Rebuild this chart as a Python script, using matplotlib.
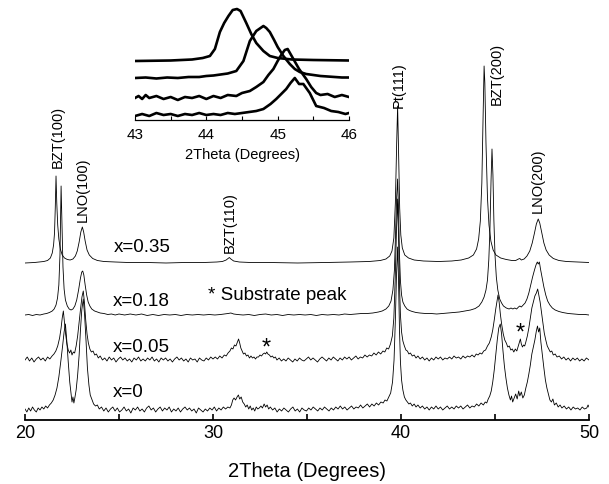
import numpy as np
import matplotlib
matplotlib.use('Agg')
import matplotlib.pyplot as plt
from matplotlib.ticker import MultipleLocator

plt.rcParams['font.family'] = ['Liberation Sans', 'DejaVu Sans']

# XRD patterns, (2theta, intensity above own baseline)
x0_pts = [(20.0,1),(20.1,-2),(20.2,2),(20.3,-1),(20.4,3),(20.5,0),(20.6,-2),(20.7,2),(20.8,0),(20.9,3),(21.0,1),(21.1,4),(21.2,2),(21.3,5),
    (21.4,7),(21.5,10),(21.6,15),(21.7,22),(21.8,33),(21.9,48),(22.0,64),(22.08,78),(22.15,86),(22.22,70),(22.3,48),(22.38,28),(22.45,16),(22.5,8),
    (22.55,13),(22.6,7),(22.65,12),(22.72,20),(22.8,35),(22.88,55),(22.95,80),(23.02,100),(23.1,111),(23.17,95),(23.25,68),(23.32,42),(23.4,25),
    (23.47,15),(23.55,11),(23.65,6),(23.75,4),(23.85,5),(23.95,1),
    (24.07,3),(24.19,-1),(24.31,2),(24.43,-2),(24.55,1),(24.67,3),(24.79,-1),(24.91,2),(25.03,-2),(25.15,0),(25.27,3),(25.39,-1),(25.51,1),(25.63,-3),
    (25.75,2),(25.87,0),(25.99,3),(26.11,-1),(26.23,1),(26.35,-2),(26.47,2),(26.59,4),(26.71,0),(26.83,2),(26.95,-2),(27.07,1),(27.19,3),(27.31,-1),
    (27.43,2),(27.55,0),(27.67,3),(27.79,-2),(27.91,1),(28.03,-1),(28.15,2),(28.27,-2),(28.39,1),(28.51,3),(28.63,0),(28.75,2),(28.87,-1),(28.99,1),
    (29.11,-3),(29.23,2),(29.35,0),(29.47,-2),(29.59,1),(29.71,-1),(29.83,2),(29.95,0),(30.07,3),(30.19,-1),(30.31,2),(30.43,0),(30.55,3),(30.67,1),
    (30.79,3),(30.9,2),(30.98,5),(31.05,10),(31.12,12),(31.2,10),(31.28,13),(31.35,15),(31.42,11),(31.5,13),(31.58,8),(31.66,6),(31.74,3),(31.82,5),
    (31.9,1),(31.98,4),(32.06,0),(32.14,2),(32.22,-1),(32.3,3),(32.38,1),(32.46,2),(32.55,4),(32.63,2),(32.72,6),(32.8,3),(32.88,5),(32.96,1),(33.05,3),
    (33.17,0),(33.29,2),(33.41,-2),(33.53,1),(33.65,-1),(33.77,2),(33.89,0),(34.01,-2),(34.13,1),(34.25,3),(34.37,-1),(34.49,1),(34.61,-2),(34.73,2),
    (34.85,0),(34.97,-1),(35.09,2),(35.21,0),(35.33,3),(35.45,1),(35.57,-1),(35.69,2),(35.81,0),(35.93,3),(36.05,1),(36.17,-1),(36.29,2),(36.41,0),
    (36.53,3),(36.65,1),(36.77,4),(36.89,1),(37.01,3),(37.13,0),(37.25,2),(37.37,4),(37.49,1),(37.61,3),(37.73,2),(37.85,5),(37.97,2),(38.09,4),
    (38.21,6),(38.33,3),(38.45,6),(38.57,4),(38.69,7),(38.81,5),(38.93,8),(39.05,7),(39.15,10),(39.25,9),(39.35,13),(39.45,17),
    (39.55,28),(39.63,50),(39.7,90),(39.76,135),(39.82,163),(39.87,128),(39.92,80),(39.97,48),(40.03,30),(40.1,20),(40.18,13),(40.26,10),(40.34,8),
    (40.42,6),(40.5,7),(40.6,4),(40.7,6),(40.8,3),(40.9,5),(41.02,2),(41.14,4),(41.26,1),(41.38,3),(41.5,0),(41.62,3),(41.74,1),(41.86,4),(41.98,1),
    (42.1,3),(42.22,0),(42.34,2),(42.46,4),(42.58,1),(42.7,3),(42.82,1),(42.94,4),(43.06,2),(43.18,4),(43.3,1),(43.42,3),(43.54,5),(43.66,2),(43.78,4),
    (43.9,3),(44.02,6),(44.14,4),(44.26,7),(44.38,5),(44.48,8),(44.56,7),(44.64,11),(44.72,14),(44.8,19),(44.88,28),(44.96,40),(45.04,55),(45.12,70),
    (45.2,82),(45.28,86),(45.35,76),(45.42,60),(45.5,44),(45.58,32),(45.66,22),(45.74,15),(45.82,10),(45.88,14),(45.94,8),(46.02,12),(46.1,16),
    (46.18,11),(46.26,19),(46.32,14),(46.4,18),(46.48,12),(46.56,15),(46.64,22),(46.72,28),(46.8,36),(46.88,45),(46.96,56),(47.04,63),(47.12,70),
    (47.2,79),(47.26,84),(47.32,78),(47.38,82),(47.44,68),(47.52,55),(47.6,42),(47.68,30),(47.76,22),(47.84,16),(47.92,10),(48.0,8),(48.08,11),
    (48.16,5),(48.26,7),(48.36,3),(48.46,5),(48.56,2),(48.68,4),(48.8,1),(48.92,3),(49.04,0),(49.16,3),(49.28,1),(49.4,2),(49.52,0),(49.64,3),
    (49.76,1),(49.88,2),(49.95,5),(50.0,3)]

x05_pts = [(20.0,0),(20.12,3),(20.24,-1),(20.36,2),(20.48,-2),(20.6,1),(20.72,3),(20.84,0),(20.96,2),(21.08,-1),(21.2,3),(21.32,1),(21.44,4),
    (21.54,6),(21.64,9),(21.74,14),(21.84,22),(21.92,32),(21.98,42),(22.04,49),(22.1,38),(22.16,26),(22.23,16),(22.3,10),(22.37,7),(22.44,10),
    (22.5,5),(22.57,8),(22.64,7),(22.72,14),(22.8,24),(22.88,38),(22.96,52),(23.03,63),(23.1,69),(23.16,58),(23.23,40),(23.3,26),(23.37,17),
    (23.45,11),(23.53,8),(23.62,9),(23.71,5),(23.8,6),(23.9,2),(24.0,4),
    (24.12,0),(24.24,2),(24.36,-1),(24.48,3),(24.6,0),(24.72,2),(24.84,-2),(24.96,1),(25.08,3),(25.2,0),(25.32,2),(25.44,-1),(25.56,1),(25.68,-2),
    (25.8,2),(25.92,0),(26.04,3),(26.16,-1),(26.28,1),(26.4,-1),(26.52,2),(26.64,0),(26.76,3),(26.88,-1),(27.0,1),(27.12,-2),(27.24,2),(27.36,0),
    (27.48,2),(27.6,-1),(27.72,1),(27.84,-2),(27.96,1),(28.08,3),(28.2,0),(28.32,2),(28.44,-1),(28.56,1),(28.68,-2),(28.8,2),(28.92,0),(29.04,1),
    (29.16,-2),(29.28,2),(29.4,0),(29.52,-1),(29.64,2),(29.76,0),(29.88,3),(30.0,1),(30.12,3),(30.24,1),(30.36,4),(30.48,2),(30.6,5),(30.7,4),
    (30.8,7),(30.9,9),(30.98,12),(31.06,11),(31.14,15),(31.22,14),(31.3,18),(31.36,21),(31.42,17),(31.48,12),(31.55,9),(31.62,6),(31.7,7),(31.78,4),
    (31.86,5),(31.94,2),(32.02,4),(32.1,2),(32.18,3),(32.26,1),(32.34,3),(32.42,3),(32.5,5),(32.58,4),(32.66,6),(32.74,7),(32.8,6),(32.86,8),
    (32.92,6),(33.0,5),(33.08,3),(33.16,4),(33.24,2),(33.32,3),(33.4,0),(33.52,2),(33.64,-1),(33.76,1),(33.88,-1),(34.0,2),(34.12,0),(34.24,-2),
    (34.36,1),(34.48,-1),(34.6,2),(34.72,0),(34.84,-1),(34.96,1),(35.08,3),(35.2,0),(35.32,2),(35.44,0),(35.56,-2),(35.68,1),(35.8,3),(35.92,1),
    (36.04,-1),(36.16,2),(36.28,0),(36.4,3),(36.52,1),(36.64,-1),(36.76,2),(36.88,0),(37.0,3),(37.12,1),(37.24,3),(37.36,0),(37.48,2),(37.6,4),
    (37.72,1),(37.84,3),(37.96,2),(38.08,5),(38.2,3),(38.32,5),(38.44,4),(38.56,7),(38.68,5),(38.8,8),(38.92,6),(39.04,9),(39.14,8),(39.24,12),
    (39.34,11),(39.44,16),(39.54,24),(39.62,42),(39.69,80),(39.76,130),(39.82,161),(39.87,122),(39.92,75),(39.97,45),(40.03,28),(40.1,19),
    (40.18,14),(40.26,10),(40.34,9),(40.42,6),(40.5,7),(40.6,4),(40.7,5),(40.8,2),(40.9,4),(41.02,1),(41.14,3),(41.26,0),(41.38,2),(41.5,-1),
    (41.62,2),(41.74,0),(41.86,3),(41.98,1),(42.1,3),(42.22,0),(42.34,2),(42.46,1),(42.58,3),(42.7,1),(42.82,4),(42.94,2),(43.06,3),(43.18,1),
    (43.3,4),(43.42,2),(43.54,4),(43.66,3),(43.78,5),(43.9,3),(44.0,6),(44.1,5),(44.2,7),(44.3,6),(44.4,9),(44.5,10),(44.6,14),(44.7,17),(44.8,23),
    (44.88,30),(44.96,40),(45.04,51),(45.1,58),(45.16,65),(45.22,58),(45.29,45),(45.36,35),(45.44,26),(45.52,20),(45.6,17),(45.68,13),(45.76,14),
    (45.84,10),(45.92,11),(46.0,8),(46.08,11),(46.16,9),(46.24,14),(46.3,18),(46.35,21),(46.4,16),(46.46,13),(46.52,15),(46.58,14),(46.64,18),
    (46.72,24),(46.8,32),(46.88,42),(46.96,52),(47.04,58),(47.12,64),(47.2,67),(47.27,71),(47.33,65),(47.4,58),(47.47,48),(47.54,38),(47.62,27),
    (47.7,20),(47.78,14),(47.86,11),(47.94,8),(48.02,9),(48.1,5),(48.2,6),(48.3,3),(48.42,4),(48.54,1),(48.66,3),(48.78,0),(48.9,2),(49.02,-1),
    (49.14,2),(49.26,0),(49.38,2),(49.5,-1),(49.62,1),(49.74,-1),(49.86,2),(50.0,0)]

x18_pts = [(20.0,0),(20.2,0.5),(20.4,-0.5),(20.6,0.5),(20.8,0),(21.0,1),(21.15,1.5),(21.3,2.5),(21.45,4),(21.55,6),(21.65,10),(21.73,17),(21.8,30),
    (21.86,60),(21.92,129),(21.97,88),(22.02,48),(22.08,26),(22.15,15),(22.25,9),(22.35,6),(22.45,5),(22.55,6),(22.65,9),(22.75,15),(22.85,25),
    (22.95,37),(23.02,43),(23.07,44),(23.13,40),(23.2,30),(23.28,20),(23.36,13),(23.45,9),(23.55,6),(23.7,4),(23.85,3),(24.0,2),(24.2,1.5),
    (24.4,0.5),(24.6,1),(24.8,0),(25.0,1),(25.3,0),(25.6,1),(25.9,0),(26.2,1),(26.5,-0.5),(26.8,0.5),(27.1,-0.5),(27.4,0.5),(27.7,0),(28.0,0.5),
    (28.3,-0.5),(28.6,0.5),(28.9,0),(29.2,0.5),(29.5,0),(29.8,0.5),(30.1,0),(30.4,0.5),(30.6,1),(30.8,1.5),(30.95,2),(31.1,1),(31.3,0.5),(31.6,0),
    (31.9,0.5),(32.2,-0.5),(32.5,0.5),(32.8,1),(33.1,0),(33.4,0.5),(33.7,-0.5),(34.0,0.5),(34.3,0),(34.6,0.5),(34.9,0),(35.2,0.5),(35.5,-0.5),
    (35.8,0.5),(36.1,0),(36.4,0.5),(36.7,0),(37.0,1),(37.3,0.5),(37.6,1),(37.9,1.5),(38.2,1.5),(38.5,2),(38.8,3),(39.0,4),(39.2,6),(39.35,9),
    (39.47,14),(39.57,25),(39.65,45),(39.71,80),(39.77,118),(39.82,136),(39.87,105),(39.92,60),(39.97,34),(40.03,20),(40.1,13),(40.2,9),(40.32,6),
    (40.45,4.5),(40.6,3.5),(40.8,2.5),(41.0,2),(41.3,1.5),(41.6,1.5),(41.9,1),(42.2,1.5),(42.5,2),(42.8,2.5),(43.1,3),(43.4,4),(43.7,5),(43.95,6.5),
    (44.15,9),(44.3,13),(44.42,18),(44.52,25),(44.6,35),(44.67,55),(44.73,85),(44.79,135),(44.84,166),(44.89,140),(44.94,95),(45.0,60),(45.07,38),
    (45.15,25),(45.25,16),(45.35,12),(45.45,9),(45.6,7),(45.75,6),(45.85,7),(45.95,6),(46.05,7),(46.15,6),(46.25,8),(46.32,9),(46.4,8),(46.5,10),
    (46.6,12),(46.7,16),(46.8,22),(46.9,30),(47.0,38),(47.1,45),(47.18,50),(47.25,53),(47.3,51),(47.36,53),(47.42,46),(47.5,38),(47.6,28),(47.7,20),
    (47.8,14),(47.92,10),(48.05,7),(48.2,5),(48.4,3.5),(48.6,2.5),(48.9,1.5),(49.2,1),(49.5,0.5),(49.8,0.5),(50.0,0)]

x35_pts = [(20.0,0),(20.5,0.5),(21.0,1.5),(21.2,2.5),(21.35,5),(21.45,10),(21.52,18),(21.57,30),(21.61,55),(21.65,87),(21.69,60),(21.74,38),
    (21.8,24),(21.88,14),(21.98,8),(22.1,5),(22.25,3.5),(22.4,3),(22.55,4),(22.68,7),(22.78,12),(22.88,21),(22.97,31),(23.05,36),(23.12,31),
    (23.2,22),(23.3,13),(23.42,8),(23.6,4.5),(23.85,2.5),(24.2,1.5),(24.8,1),(25.5,0.5),(26.5,0.5),(27.5,0),(28.5,0.5),(29.5,0.5),(30.2,1),
    (30.5,1.5),(30.7,3),(30.8,4.5),(30.87,5.5),(30.95,4),(31.1,2),(31.4,1),(32.0,0.5),(33.0,0.5),(34.5,0),(36.0,0.5),(37.3,1),(38.3,1.5),
    (38.9,2.5),(39.2,4),(39.4,7),(39.52,12),(39.62,25),(39.7,60),(39.77,120),(39.82,157),(39.87,112),(39.93,55),(39.99,28),(40.07,15),(40.2,8),
    (40.4,5),(40.7,3),(41.2,2),(42.0,1.5),(42.7,2),(43.2,3),(43.6,5),(43.85,8),(44.02,14),(44.13,24),(44.22,42),(44.3,80),(44.36,140),(44.42,197),
    (44.46,180),(44.52,120),(44.6,65),(44.68,38),(44.78,22),(44.9,13),(45.05,8),(45.3,5),(45.6,3.5),(45.9,2.5),(46.1,2.5),(46.25,4),(46.32,4.5),
    (46.4,3),(46.55,4),(46.7,7),(46.85,12),(46.98,20),(47.1,30),(47.2,39),(47.3,44),(47.38,40),(47.48,31),(47.6,20),(47.72,13),(47.88,8),
    (48.1,4.5),(48.4,2.5),(48.8,1.5),(49.4,1),(50.0,0.5)]

# inset: zoom on the BZT(200) peak
ins35_pts = [(43.0,0),(43.5,0.5),(43.8,1.5),(43.95,3),(44.05,5),(44.12,12),(44.19,29),(44.25,38),(44.31,45),(44.37,51),(44.43,52),(44.48,50),
    (44.56,38),(44.63,27),(44.7,18),(44.8,10),(44.89,5),(45.0,3),(45.2,1.5),(45.5,1),(46.0,0.5)]
ins18_pts = [(43.0,0),(43.15,0.5),(43.3,-0.5),(43.45,0.5),(43.6,0),(43.75,1),(43.9,1),(44.0,2),(44.1,2.5),(44.2,3.5),(44.3,4.5),(44.42,7),
    (44.52,17),(44.61,37),(44.7,47),(44.8,52),(44.84,50),(44.89,46),(44.95,38),(45.0,31),(45.08,22),(45.17,14),(45.24,9),(45.31,6),(45.4,4),
    (45.5,3),(45.6,2),(45.7,1.5),(45.8,1),(45.9,0.5),(46.0,0.5)]
ins05_pts = [(43.0,1),(43.05,3),(43.1,0),(43.15,4),(43.2,1),(43.3,3),(43.4,0),(43.5,2),(43.6,-1),(43.7,2),(43.8,1),(43.9,3),(44.0,0),(44.1,3),
    (44.2,1),(44.3,4),(44.42,3),(44.5,6),(44.61,8),(44.7,12),(44.8,17),(44.87,24),(44.94,30),(45.0,38),(45.05,44),(45.1,49),(45.14,50),(45.18,45),
    (45.22,40),(45.3,30),(45.4,20),(45.47,12),(45.54,6),(45.6,4),(45.7,5),(45.8,2),(45.9,4),(46.0,2)]
ins0_pts = [(43.0,0),(43.1,2),(43.2,0),(43.3,3),(43.4,1),(43.5,2),(43.6,0),(43.7,2),(43.8,1),(43.9,3),(44.0,1),(44.1,2),(44.2,1),(44.3,3),
    (44.4,2),(44.5,3),(44.6,4),(44.7,5),(44.8,7),(44.9,12),(44.98,17),(45.05,22),(45.12,27),(45.18,33),(45.24,38),(45.3,32),(45.36,32),
    (45.45,23),(45.54,10),(45.65,8),(45.75,5),(45.85,4),(45.95,2),(46.0,3)]

samples = ['x=0', 'x=0.05', 'x=0.18', 'x=0.35']
traces = [x0_pts, x05_pts, x18_pts, x35_pts]
offsets = [10, 60, 105, 157]
inset_traces = [ins0_pts, ins05_pts, ins18_pts, ins35_pts]
inset_offsets = [4, 21, 42, 59]

peak_labels = ['BZT(100)', 'LNO(100)', 'BZT(110)', 'Pt(111)', 'BZT(200)', 'LNO(200)']
peak_pos = [21.75, 23.07, 30.9, 39.9, 45.08, 47.3]
peak_top = [253, 199, 168, 313, 316, 208]

W, H = 609, 485
fig = plt.figure(figsize=(W / 100, H / 100), dpi=100)
ax = fig.add_axes([25 / W, 64 / H, 564 / W, 361 / H])

for pts, off in zip(traces, offsets):
    t, i = np.array(pts).T
    ax.plot(t, i + off, color='black', lw=0.6)

ax.set_xlim(20, 50)
ax.set_ylim(0, 361)
for s in ['left', 'right', 'top']:
    ax.spines[s].set_visible(False)
ax.spines['bottom'].set_linewidth(1.3)
ax.set_yticks([])
ax.xaxis.set_major_locator(MultipleLocator(10))
ax.xaxis.set_minor_locator(MultipleLocator(5))
ax.tick_params(axis='x', which='both', direction='in', length=4, width=1.2, labelsize=13, pad=3)
ax.set_xlabel('2Theta (Degrees)', fontsize=14.5, labelpad=14)

for lab, p, top in zip(peak_labels, peak_pos, peak_top):
    ax.text(p, top, lab, rotation=90, ha='center', va='bottom', fontsize=10.5)

ax.text(24.7, 173, 'x=0.35', fontsize=13.5, va='center')
ax.text(24.65, 119, 'x=0.18', fontsize=13.5, va='center')
ax.text(24.65, 74, 'x=0.05', fontsize=13.5, va='center')
ax.text(24.65, 28, 'x=0', fontsize=13.5, va='center')
ax.text(29.73, 126, '* Substrate peak', fontsize=13.5, va='center')
ax.text(32.85, 72, '*', fontsize=17, ha='center', va='center')
ax.text(46.33, 87, '*', fontsize=17, ha='center', va='center')

# inset
ins = fig.add_axes([135 / W, (H - 121) / H, 214 / W, 116 / H])
for pts, off in zip(inset_traces, inset_offsets):
    t, i = np.array(pts).T
    ins.plot(t, i + off, color='black', lw=1.9)
ins.set_xlim(43, 46)
ins.set_ylim(0, 116)
ins.patch.set_alpha(0)
for s in ['left', 'right', 'top']:
    ins.spines[s].set_visible(False)
ins.spines['bottom'].set_linewidth(0.9)
ins.set_yticks([])
ins.xaxis.set_major_locator(MultipleLocator(1))
ins.xaxis.set_minor_locator(MultipleLocator(0.5))
ins.tick_params(axis='x', which='both', direction='in', length=3, width=0.8, labelsize=11, pad=5)
ins.set_xlabel('2Theta (Degrees)', fontsize=10.5, labelpad=4)

plt.savefig('out.png', dpi=100)
